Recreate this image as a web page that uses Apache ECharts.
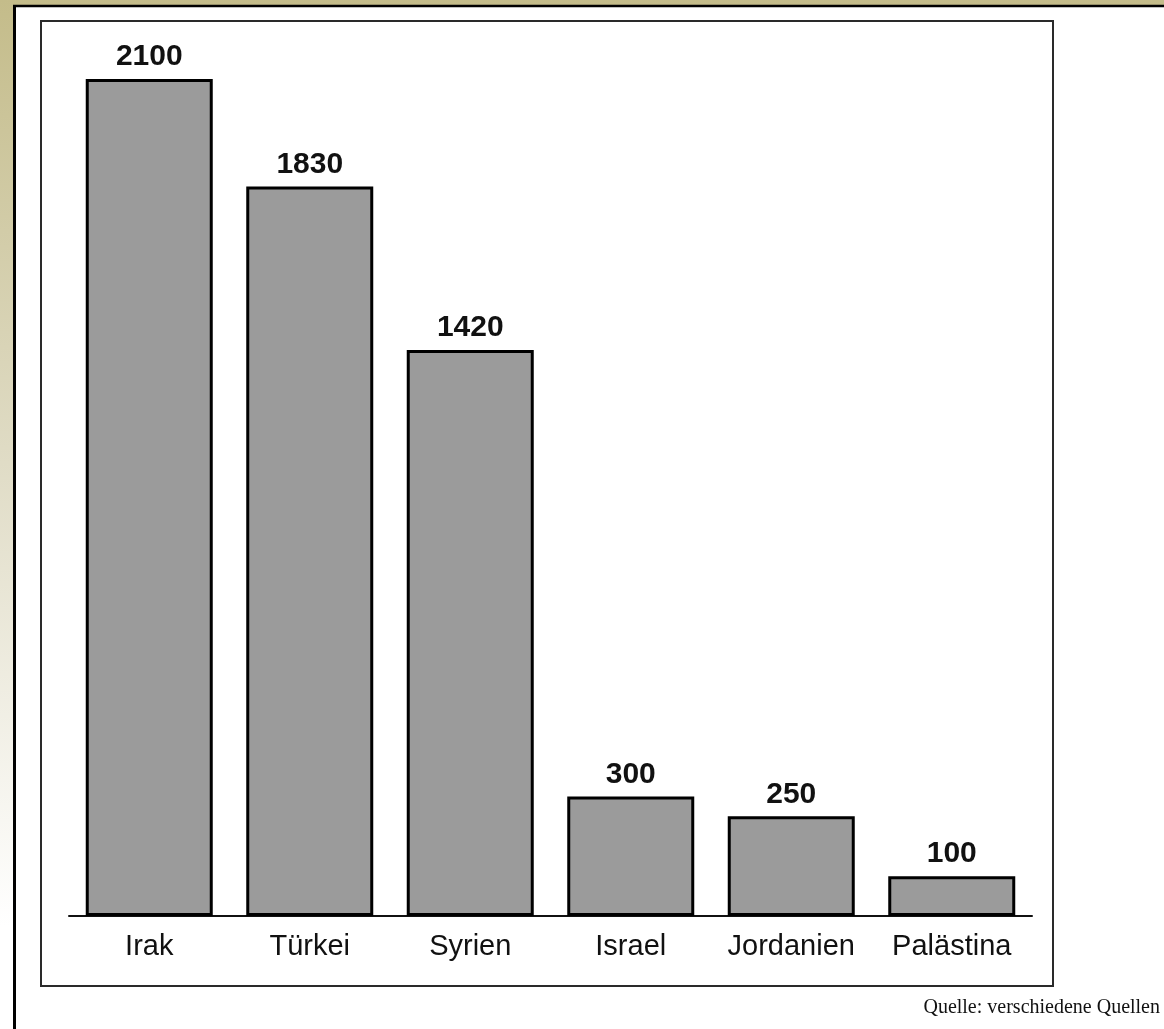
<!DOCTYPE html>
<html>
<head>
<meta charset="utf-8">
<script src="https://cdn.jsdelivr.net/npm/echarts@6/dist/echarts.min.js"></script>
<style>
html,body{margin:0;padding:0;background:#fff;}
#chart{width:1164px;height:1029px;}
</style>
</head>
<body>
<div id="chart"></div>
<script>
var categories = ['Irak', 'Türkei', 'Syrien', 'Israel', 'Jordanien', 'Palästina'];
var values = [2100, 1830, 1420, 300, 250, 100];
var sourceText = 'Quelle: verschiedene Quellen';

var chart = echarts.init(document.getElementById('chart'), null, {renderer: 'canvas'});
chart.setOption({
  backgroundColor: '#ffffff',
  animation: false,
  graphic: [
    {type: 'rect', z: -10, silent: true, shape: {x: 0, y: 0, width: 1164, height: 1029},
     style: {fill: {type: 'linear', x: 0, y: 0, x2: 0, y2: 1, colorStops: [
       {offset: 0, color: '#c4bc8a'}, {offset: 0.45, color: '#e0dcc6'}, {offset: 0.9, color: '#ffffff'}, {offset: 1, color: '#ffffff'}]}}},
    {type: 'rect', z: -9, silent: true, shape: {x: 15, y: 7, width: 1149, height: 1022}, style: {fill: '#ffffff'}},
    {type: 'line', z: -8, silent: true, shape: {x1: 13, y1: 6, x2: 1164, y2: 6}, style: {stroke: '#000', lineWidth: 2.5}},
    {type: 'line', z: -8, silent: true, shape: {x1: 14.5, y1: 5, x2: 14.5, y2: 1029}, style: {stroke: '#000', lineWidth: 3}},
    {type: 'rect', z: -7, silent: true, shape: {x: 41, y: 21, width: 1012, height: 965},
     style: {fill: 'none', stroke: '#2a2a2a', lineWidth: 2}},
    {type: 'text', z: 10, right: 4, top: 998,
     style: {text: sourceText, font: '20px "Liberation Serif", "DejaVu Serif", serif', fill: '#111'}}
  ],
  grid: {left: 69, right: 132, top: 79, bottom: 113, containLabel: false},
  xAxis: {
    type: 'category',
    data: categories,
    axisLine: {show: true, lineStyle: {color: '#111', width: 2}},
    axisTick: {show: false},
    axisLabel: {interval: 0, color: '#111', fontSize: 29, fontFamily: '"Liberation Sans", Arial, sans-serif', margin: 16}
  },
  yAxis: {
    type: 'value', min: 0, max: 2100,
    show: false,
    splitLine: {show: false}
  },
  series: [{
    type: 'bar',
    data: values,
    barWidth: 127,
    itemStyle: {color: '#9b9b9b', borderColor: '#000', borderWidth: 3},
    label: {
      show: true, position: 'top', distance: 7,
      color: '#111', fontSize: 30, fontWeight: 'bold',
      fontFamily: '"Liberation Sans", Arial, sans-serif'
    }
  }]
});
</script>
</body>
</html>
